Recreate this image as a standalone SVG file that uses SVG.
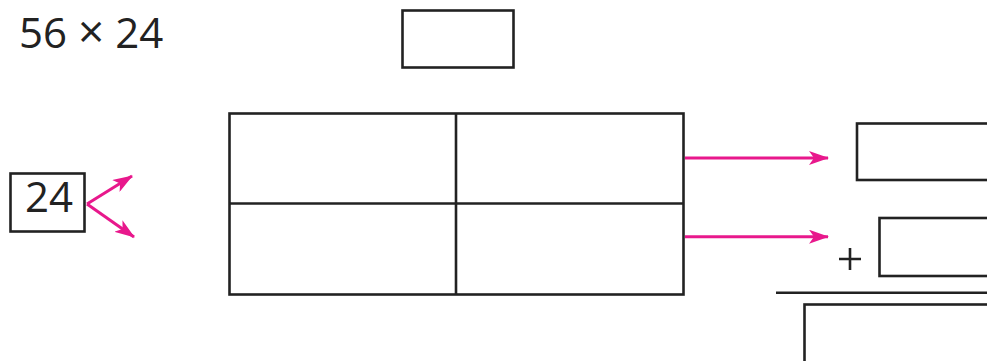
<svg xmlns="http://www.w3.org/2000/svg" width="987" height="361" viewBox="0 0 987 361">
<style>
.box{fill:#fff;stroke:#222;stroke-width:2.6}
.ln{stroke:#222;stroke-width:2.6;fill:none}
.pk{stroke:#e8188c;stroke-width:3;fill:none}
.t{font-family:"Open Sans","Noto Sans",sans-serif;font-size:42px;fill:#222}
</style>
<defs>
<marker id="ah" viewBox="0 0 20 14" refX="19" refY="7" markerWidth="20" markerHeight="14" markerUnits="userSpaceOnUse" orient="auto">
<path d="M0,0 L20,7 L0,14 L5,7 Z" fill="#e8188c"/>
</marker>
</defs>
<rect width="987" height="361" fill="#fff"/>
<g id="problem"><text class="t" x="19" y="48">56 <tspan font-size="46">×</tspan> 24</text></g>
<g id="topbox"><rect class="box" x="402.5" y="10.5" width="111" height="57"/></g>
<g id="grid">
<rect class="box" x="229.5" y="113.5" width="454" height="181"/>
<line class="ln" x1="456" y1="113.5" x2="456" y2="294.5"/>
<line class="ln" x1="229.5" y1="203.5" x2="683.5" y2="203.5"/>
</g>
<g id="split24">
<rect class="box" x="10.5" y="173.5" width="74" height="58"/>
<text class="t" x="25" y="212">24</text>
</g>
<g id="result1"><rect class="box" x="857" y="123.5" width="140" height="56.5"/></g>
<g id="result2"><rect class="box" x="879.5" y="218" width="120" height="58"/></g>
<g id="plus"><path class="ln" d="M839,259H861M850,248V270" stroke-width="3"/></g>
<g id="sumline"><line class="ln" x1="776" y1="292.8" x2="990" y2="292.8"/></g>
<g id="total"><rect class="box" x="804.5" y="304.5" width="200" height="70"/></g>
<g id="connectors">
<path class="pk" d="M87,204 L132,176" marker-end="url(#ah)"/>
<path class="pk" d="M87,204 L134,237" marker-end="url(#ah)"/>
<path class="pk" d="M685,158 L828,158" marker-end="url(#ah)"/>
<path class="pk" d="M685,236.7 L828,236.7" marker-end="url(#ah)"/>
</g>
</svg>
